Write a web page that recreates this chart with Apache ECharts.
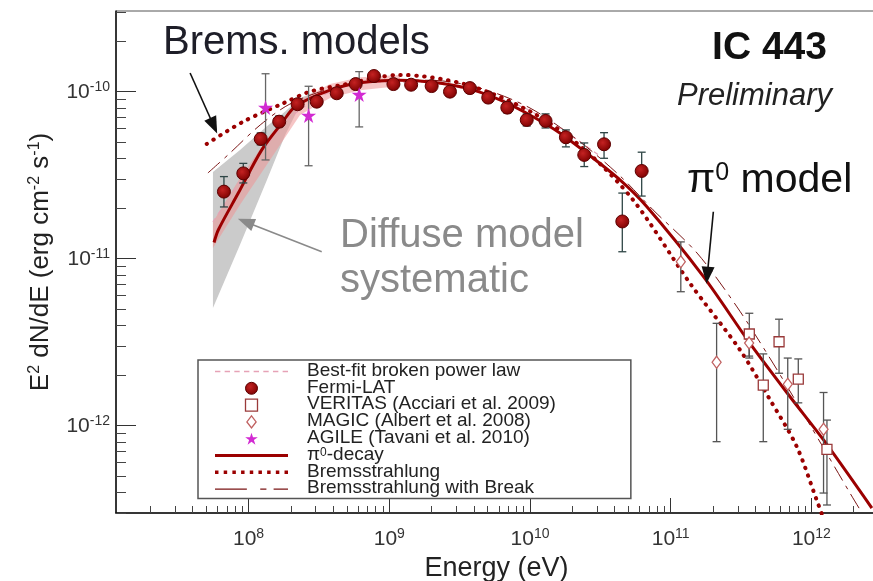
<!DOCTYPE html>
<html><head><meta charset="utf-8">
<script src="https://cdn.jsdelivr.net/npm/echarts@6/dist/echarts.min.js"></script>
<style>html,body{margin:0;padding:0;background:#fff}#c{width:873px;height:581px}</style>
</head><body><div id="c"></div><script>
const FONT = '"Liberation Sans", Arial, Helvetica, sans-serif';

// ---- axis ranges / ticks ----
const xMin = 1.142e7, xMax = 2.926e12;
const yMin = 3.0e-13, yMax = 3.04e-10;
const xTickMajor = [1e8, 1e9, 1e10, 1e11, 1e12];
const yTickMajor = [1e-12, 1e-11, 1e-10];
const xTickMinor = [];
for (let d = 7; d <= 12; d++) for (let k = 2; k <= 9; k++) { const v = k * Math.pow(10, d); if (v > xMin && v < xMax) xTickMinor.push(v); }
const yTickMinor = [];
for (let d = -13; d <= -10; d++) for (let k = 2; k <= 9; k++) { const v = k * Math.pow(10, d); if (v > yMin && v < yMax) yTickMinor.push(v); }

// ---- Fermi-LAT ----
const fermiE  = [6.68e7, 9.17e7, 1.22e8, 1.65e8, 2.23e8, 3.05e8, 4.23e8, 5.77e8, 7.78e8, 1.07e9, 1.43e9, 2.00e9, 2.70e9, 3.74e9, 5.05e9, 6.90e9, 9.48e9, 1.29e10, 1.80e10, 2.43e10, 3.36e10, 4.53e10, 6.22e10];
const fermiF  = [2.52e-11, 3.24e-11, 5.21e-11, 6.61e-11, 8.41e-11, 8.71e-11, 9.78e-11, 1.11e-10, 1.24e-10, 1.11e-10, 1.10e-10, 1.08e-10, 1.00e-10, 1.05e-10, 9.21e-11, 8.02e-11, 6.77e-11, 6.68e-11, 5.33e-11, 4.18e-11, 4.84e-11, 1.67e-11, 3.35e-11];
const fermiHi = [3.10e-11, 3.72e-11, 5.66e-11, 7.15e-11, 8.92e-11, 9.29e-11, 1.04e-10, 1.18e-10, 1.31e-10, 1.18e-10, 1.16e-10, 1.14e-10, 1.06e-10, 1.11e-10, 9.82e-11, 8.68e-11, 7.35e-11, 7.36e-11, 5.90e-11, 4.93e-11, 5.68e-11, 2.47e-11, 4.34e-11];
const fermiLo = [2.04e-11, 2.84e-11, 4.80e-11, 6.15e-11, 7.88e-11, 8.21e-11, 9.17e-11, 1.05e-10, 1.18e-10, 1.05e-10, 1.04e-10, 1.02e-10, 9.43e-11, 9.82e-11, 8.62e-11, 7.45e-11, 6.23e-11, 6.06e-11, 4.67e-11, 3.56e-11, 3.99e-11, 1.10e-11, 2.37e-11];

// ---- VERITAS ----
const veritasE  = [3.62e11, 4.55e11, 5.89e11, 8.07e11, 1.29e12];
const veritasF  = [3.54e-12, 1.75e-12, 3.18e-12, 1.90e-12, 7.22e-13];
const veritasHi = [4.71e-12, 2.69e-12, 4.34e-12, 2.51e-12, 1.08e-12];
const veritasLo = [2.54e-12, 8.02e-13, 2.06e-12, 1.37e-12, 3.35e-13];

// ---- MAGIC ----
const magicE  = [1.18e11, 2.12e11, 3.61e11, 6.79e11, 1.22e12];
const magicF  = [9.59e-12, 2.40e-12, 3.13e-12, 1.77e-12, 9.51e-13];
const magicHi = [1.26e-11, 4.10e-12, 3.74e-12, 2.54e-12, 1.58e-12];
const magicLo = [6.34e-12, 8.02e-13, 2.61e-12, 9.51e-13, 3.95e-13];

// ---- AGILE ----
const agileE  = [1.32e8, 2.67e8, 6.11e8];
const agileF  = [8.04e-11, 7.20e-11, 9.60e-11];
const agileHi = [1.28e-10, 1.077e-10, 1.318e-10];
const agileLo = [3.90e-11, 3.60e-11, 6.15e-11];

// ---- models ----
const pi0E = [5.68e7, 6.10e7, 8.45e7, 1.24e8, 1.72e8, 2.14e8, 3.79e8, 6.19e8, 1.19e9, 2.05e9, 3.55e9, 6.12e9, 1.05e10, 1.63e10, 2.53e10, 4.36e10, 6.75e10, 1.71e11, 3.66e11, 7.05e11, 1.22e12, 2.69e12];
const pi0F = [1.25e-11, 1.49e-11, 2.47e-11, 4.48e-11, 6.47e-11, 8.13e-11, 1.02e-10, 1.13e-10, 1.17e-10, 1.14e-10, 1.05e-10, 8.92e-11, 7.08e-11, 5.66e-11, 4.28e-11, 2.96e-11, 2.05e-11, 7.80e-12, 3.11e-12, 1.49e-12, 8.21e-13, 3.21e-13];

const bremsE = [5.04e7, 9.16e7, 1.77e8, 2.73e8, 4.71e8, 1.19e9, 3.55e9, 1.05e10, 2.53e10, 5.42e10, 1.37e11, 3.11e11, 5.08e11, 7.87e11, 1.09e12, 1.23e12];
const bremsF = [4.86e-11, 6.61e-11, 8.53e-11, 1.00e-10, 1.10e-10, 1.26e-10, 1.10e-10, 7.45e-11, 4.38e-11, 2.24e-11, 7.13e-12, 2.84e-12, 1.43e-12, 7.49e-13, 3.59e-13, 2.72e-13];

const breakE = [5.14e7, 7.14e7, 1.21e8, 1.97e8, 3.79e8, 8.59e8, 1.95e9, 4.42e9, 1.00e10, 2.27e10, 4.36e10, 7.49e10, 1.54e11, 2.96e11, 5.33e11, 9.77e11, 1.88e12, 2.29e12];
const breakF = [3.26e-11, 4.18e-11, 6.32e-11, 8.44e-11, 1.04e-10, 1.17e-10, 1.17e-10, 1.05e-10, 7.98e-11, 5.00e-11, 3.13e-11, 1.96e-11, 1.08e-11, 5.14e-12, 2.37e-12, 1.01e-12, 3.95e-13, 3.00e-13];

const fitE = [5.58e7, 1.02e8, 1.97e8, 3.79e8, 7.29e8, 1.65e9, 3.75e9, 8.49e9, 1.63e10, 3.14e10];
const fitF = [1.66e-11, 3.49e-11, 6.96e-11, 9.96e-11, 1.14e-10, 1.14e-10, 1.02e-10, 8.21e-11, 6.06e-11, 4.12e-11];

// fit uncertainty band (pink)
const fitBandE  = [5.58e7, 8.69e7, 1.42e8, 2.32e8, 3.79e8, 6.19e8, 1.19e9];
const fitBandHi = [1.66e-11, 3.04e-11, 5.50e-11, 8.92e-11, 1.11e-10, 1.22e-10, 1.26e-10];
const fitBandLo = [1.16e-11, 2.10e-11, 3.90e-11, 7.25e-11, 9.17e-11, 1.02e-10, 1.08e-10];

// diffuse model systematic band (gray)
const sysE  = [5.58e7, 8.69e7, 1.35e8, 1.82e8, 2.32e8, 2.96e8];
const sysHi = [3.30e-11, 4.48e-11, 6.20e-11, 7.60e-11, 9.17e-11, 9.96e-11];
const sysLo = [5.06e-12, 1.21e-11, 2.96e-11, 5.50e-11, 8.32e-11, 9.96e-11];

// annotation arrows [fromE, fromF, toE, toF]
const arrowBrems = [3.84e7, 1.294e-10, 5.65e7, 6.25e-11];
const arrowPi0   = [2.01e11, 1.91e-11, 1.82e11, 7.96e-12];
const arrowSys   = [3.31e8, 1.10e-11, 9.55e7, 1.66e-11];

const legendNames = ['Best-fit broken power law', 'Fermi-LAT', 'VERITAS (Acciari et al. 2009)', 'MAGIC (Albert et al. 2008)',
                     'AGILE (Tavani et al. 2010)', 'π0-decay', 'Bremsstrahlung', 'Bremsstrahlung with Break'];

const DARK = '#9b0000';

function pair(E, F) { return E.map((e, i) => [e, F[i]]); }
function powLabel(v) { const e = Math.round(Math.log10(v)); return '{b|10}{s|' + e + '}'; }
const tickRich = {
  b: { fontSize: 21, fontFamily: FONT, color: '#333', verticalAlign: 'bottom' },
  s: { fontSize: 14, fontFamily: FONT, color: '#333', verticalAlign: 'top', padding: [0, 0, 9, 0] }
};

function band(name, E, hi, lo, color, z) {
  return {
    type: 'custom', name: name, coordinateSystem: 'cartesian2d', silent: true, z: z, clip: true,
    data: [[E[0], hi[0]]], encode: { x: 0, y: 1 },
    renderItem: function (params, api) {
      if (params.dataIndex !== 0) return;
      const pts = [];
      for (let i = 0; i < E.length; i++) pts.push(api.coord([E[i], hi[i]]));
      for (let i = E.length - 1; i >= 0; i--) pts.push(api.coord([E[i], lo[i]]));
      return { type: 'polygon', shape: { points: pts }, style: { fill: color } };
    }
  };
}
function errBars(name, E, lo, hi, color, z) {
  return {
    type: 'custom', name: name, coordinateSystem: 'cartesian2d', silent: true, z: z, clip: true,
    data: E.map((e, i) => [e, lo[i], hi[i]]), encode: { x: 0, y: [1, 2] },
    renderItem: function (params, api) {
      const e = api.value(0);
      const p1 = api.coord([e, api.value(1)]);
      const p2 = api.coord([e, api.value(2)]);
      const w = 4, st = { stroke: color, lineWidth: 1.3 };
      return { type: 'group', children: [
        { type: 'line', shape: { x1: p1[0], y1: p1[1], x2: p2[0], y2: p2[1] }, style: st },
        { type: 'line', shape: { x1: p1[0] - w, y1: p1[1], x2: p1[0] + w, y2: p1[1] }, style: st },
        { type: 'line', shape: { x1: p2[0] - w, y1: p2[1], x2: p2[0] + w, y2: p2[1] }, style: st }
      ] };
    }
  };
}
function arrow(a, color) {
  return [
    { coord: [a[0], a[1]], lineStyle: { color: color, width: 1.6, type: 'solid' }, itemStyle: { color: color } },
    { coord: [a[2], a[3]], lineStyle: { color: color, width: 1.6, type: 'solid' }, itemStyle: { color: color } }
  ];
}
// legend icon paths (styles only)
function dashPath(step, len, h, total) {
  let s = 'path://';
  for (let x = 0; x + len <= total + 0.01; x += step) s += 'M' + x + ',0h' + len + 'v' + h + 'h-' + len + 'z';
  return s;
}
const iconSolid = 'path://M0,0h73v3h-73z';
const iconDotted = dashPath(8, 3.2, 3.2, 73);
const iconFit = dashPath(9, 5, 1.4, 73);
const iconBreak = 'path://M0,0h31v1.3h-31zM44,0h6v1.3h-6zM57,0h14v1.3h-14z';
const iconSquare = 'path://M0,0h10v10h-10z';
const iconDiamond = 'path://M5,0L10,6.5L5,13L0,6.5Z';
const starPath = 'path://M12,0 L14.8,8.6 L23.8,8.6 L16.5,13.9 L19.3,22.5 L12,17.2 L4.7,22.5 L7.5,13.9 L0.2,8.6 L9.2,8.6 Z';

const fermiFill = { type: 'radial', x: 0.4, y: 0.38, r: 0.65, colorStops: [{ offset: 0, color: '#c42222' }, { offset: 1, color: '#7c0000' }] };

const chart = echarts.init(document.getElementById('c'), null, { renderer: 'canvas' });
const option = {
  animation: false,
  backgroundColor: '#fff',
  grid: { left: 116, top: 11, right: -4, bottom: 68, show: true, borderColor: '#555', borderWidth: 1, backgroundColor: 'transparent',
          containLabel: false, outerBoundsMode: 'none' },
  xAxis: [
    { type: 'log', logBase: 10, min: xMin, max: xMax, position: 'bottom',
      axisLine: { show: true, lineStyle: { color: '#111', width: 1.5 } },
      axisTick: { show: true, inside: true, length: 15, customValues: xTickMajor, lineStyle: { color: '#333', width: 1 } },
      axisLabel: { show: true, customValues: xTickMajor, formatter: powLabel, rich: tickRich, margin: 14 },
      splitLine: { show: false }, minorTick: { show: false },
      name: 'Energy (eV)', nameLocation: 'middle', nameGap: 40,
      nameTextStyle: { fontFamily: FONT, fontSize: 27, color: '#222' } },
    { type: 'log', logBase: 10, min: xMin, max: xMax, position: 'bottom',
      axisLine: { show: false },
      axisTick: { show: true, inside: true, length: 7, customValues: xTickMinor, lineStyle: { color: '#444', width: 1 } },
      axisLabel: { show: false }, splitLine: { show: false } }
  ],
  yAxis: [
    { type: 'log', logBase: 10, min: yMin, max: yMax, position: 'left',
      axisLine: { show: true, lineStyle: { color: '#111', width: 1.5 } },
      axisTick: { show: true, inside: true, length: 20, customValues: yTickMajor, lineStyle: { color: '#333', width: 1 } },
      axisLabel: { show: true, customValues: yTickMajor, formatter: powLabel, rich: tickRich, margin: 6 },
      splitLine: { show: false },
      name: '{n|E}{sup|2}{n| dN/dE (erg cm}{sup|-2}{n| s}{sup|-1}{n|)}', nameLocation: 'middle', nameGap: 62,
      nameTextStyle: { fontFamily: FONT, fontSize: 26, color: '#222',
        rich: { n: { fontFamily: FONT, fontSize: 26, color: '#222', verticalAlign: 'bottom' },
                sup: { fontFamily: FONT, fontSize: 16, color: '#222', verticalAlign: 'top', padding: [0, 0, 11, 0] } } } },
    { type: 'log', logBase: 10, min: yMin, max: yMax, position: 'left',
      axisLine: { show: false },
      axisTick: { show: true, inside: true, length: 10, customValues: yTickMinor, lineStyle: { color: '#444', width: 1 } },
      axisLabel: { show: false }, splitLine: { show: false } }
  ],
  legend: {
    left: 198, top: 360, orient: 'vertical', itemWidth: 73, itemHeight: 12, itemGap: -2.2,
    padding: [1, 75, 1, 17], backgroundColor: '#fff', borderColor: '#555', borderWidth: 1.5, z: 10,
    selectedMode: false, symbolKeepAspect: true,
    textStyle: { fontFamily: FONT, fontSize: 19, color: '#222', lineHeight: 17, padding: [0, 0, 0, 14],
      rich: { n: { fontFamily: FONT, fontSize: 19, color: '#222', lineHeight: 17, verticalAlign: 'bottom' },
              sup: { fontFamily: FONT, fontSize: 12, color: '#222', lineHeight: 12, verticalAlign: 'top', padding: [0, 0, 5, 0] } } },
    formatter: function (name) { return name === 'π0-decay' ? '{n|π}{sup|0}{n|-decay}' : '{n|' + name + '}'; },
    data: [
      { name: legendNames[0], icon: iconFit, itemStyle: { color: '#e6a2b6', borderWidth: 0 } },
      { name: legendNames[1], icon: 'circle', itemStyle: { color: fermiFill, borderColor: '#5c0000', borderWidth: 1 } },
      { name: legendNames[2], icon: iconSquare, itemStyle: { color: '#fff', borderColor: '#9a3a3a', borderWidth: 1.3 } },
      { name: legendNames[3], icon: iconDiamond, itemStyle: { color: '#fff', borderColor: '#c06060', borderWidth: 1.3 } },
      { name: legendNames[4], icon: starPath, itemStyle: { color: '#d22ad2', borderWidth: 0 } },
      { name: legendNames[5], icon: iconSolid, itemStyle: { color: DARK, borderWidth: 0 } },
      { name: legendNames[6], icon: iconDotted, itemStyle: { color: DARK, borderWidth: 0 } },
      { name: legendNames[7], icon: iconBreak, itemStyle: { color: '#7a1515', borderWidth: 0 } }
    ]
  },
  graphic: [
    { type: 'text', x: 163, y: 43, z: 50, style: { text: 'Brems. models', font: '40px ' + FONT, fill: '#1e1e28', align: 'left', verticalAlign: 'middle' } },
    { type: 'text', x: 827, y: 48, z: 50, style: { text: 'IC 443', font: 'bold 39px ' + FONT, fill: '#111', align: 'right', verticalAlign: 'middle' } },
    { type: 'text', x: 832, y: 96, z: 50, style: { text: 'Preliminary', font: 'italic 31px ' + FONT, fill: '#222', align: 'right', verticalAlign: 'middle' } },
    { type: 'text', x: 687, y: 181, z: 50, style: { text: '{a|π}{s|0}{a| model}', align: 'left', verticalAlign: 'middle',
        rich: { a: { fontFamily: FONT, fontSize: 41, fill: '#111', color: '#111', verticalAlign: 'bottom' },
                s: { fontFamily: FONT, fontSize: 25, fill: '#111', color: '#111', verticalAlign: 'top', padding: [0, 0, 16, 0] } } } },
    { type: 'text', x: 340, y: 236, z: 50, style: { text: 'Diffuse model', font: '40px ' + FONT, fill: '#8a8a8a', align: 'left', verticalAlign: 'middle' } },
    { type: 'text', x: 340, y: 281, z: 50, style: { text: 'systematic', font: '40px ' + FONT, fill: '#8a8a8a', align: 'left', verticalAlign: 'middle' } }
  ],
  series: [
    band('Diffuse model systematic', sysE, sysHi, sysLo, '#cbcbcb', 1),
    band('Fit uncertainty', fitBandE, fitBandHi, fitBandLo, 'rgba(238,150,150,0.55)', 1.5),
    { type: 'line', name: legendNames[0], data: pair(fitE, fitF), symbol: 'none', showSymbol: false, smooth: 0.3, z: 2,
      lineStyle: { color: '#e6a2b6', width: 1.2, type: [5, 4] }, itemStyle: { color: '#e6a2b6' } },
    { type: 'line', name: legendNames[7], data: pair(breakE, breakF), symbol: 'none', showSymbol: false, smooth: 0.3, z: 3,
      lineStyle: { color: '#7a1515', width: 1, type: [16, 6, 4, 6] }, itemStyle: { color: '#7a1515' } },
    { type: 'line', name: legendNames[6], data: pair(bremsE, bremsF), symbol: 'none', showSymbol: false, smooth: 0.3, z: 3,
      lineStyle: { color: DARK, width: 4, type: [0.5, 7.5], cap: 'round' }, itemStyle: { color: DARK } },
    { type: 'line', name: legendNames[5], data: pair(pi0E, pi0F), symbol: 'none', showSymbol: false, smooth: 0.3, z: 3,
      lineStyle: { color: DARK, width: 3 }, itemStyle: { color: DARK },
      markLine: { silent: true, animation: false, symbol: ['none', 'triangle'], symbolSize: [13, 17], label: { show: false },
        emphasis: { disabled: true },
        data: [arrow(arrowBrems, '#111'), arrow(arrowPi0, '#111'), arrow(arrowSys, '#8a8a8a')] } },
    errBars('Fermi-LAT errors', fermiE, fermiLo, fermiHi, '#2f4646', 4),
    errBars('VERITAS errors', veritasE, veritasLo, veritasHi, '#555', 4),
    errBars('MAGIC errors', magicE, magicLo, magicHi, '#555', 4),
    errBars('AGILE errors', agileE, agileLo, agileHi, '#666', 4),
    { type: 'scatter', name: legendNames[1], data: pair(fermiE, fermiF), symbol: 'circle', symbolSize: 13, z: 5,
      itemStyle: { color: fermiFill, borderColor: '#5c0000', borderWidth: 1, opacity: 1 } },
    { type: 'scatter', name: legendNames[2], data: pair(veritasE, veritasF), symbol: 'rect', symbolSize: 10, z: 5,
      itemStyle: { color: '#fff', borderColor: '#9a3a3a', borderWidth: 1.3, opacity: 1 } },
    { type: 'scatter', name: legendNames[3], data: pair(magicE, magicF), symbol: 'diamond', symbolSize: [9, 12], z: 5,
      itemStyle: { color: '#fff', borderColor: '#c06060', borderWidth: 1.3, opacity: 1 } },
    { type: 'scatter', name: legendNames[4], data: pair(agileE, agileF), symbol: starPath, symbolSize: 15, z: 5,
      itemStyle: { color: '#d22ad2', opacity: 1 } }
  ]
};
chart.setOption(option);
</script></body></html>
